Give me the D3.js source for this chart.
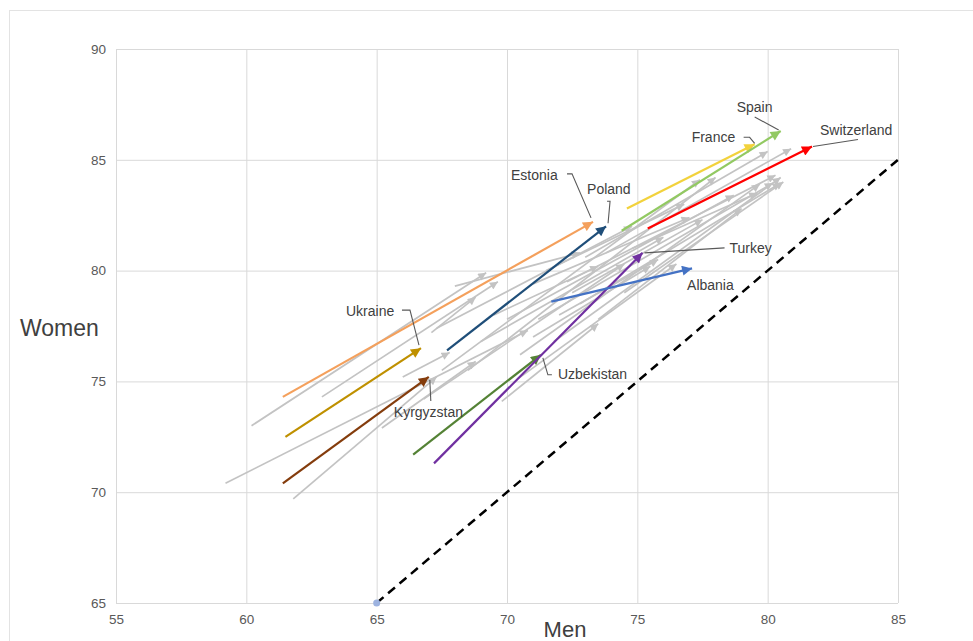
<!DOCTYPE html>
<html>
<head>
<meta charset="utf-8">
<script src="https://cdn.jsdelivr.net/npm/d3@7"></script>
<style>
  body { margin: 0; background: #fff; }
  text { font-family: Arial, "Liberation Sans", sans-serif; }
</style>
</head>
<body>
<script>

const width = 973;
const height = 641;

// highlighted countries: life expectancy, men (x) vs women (y), start -> end
const countries  = ['Estonia', 'Ukraine', 'Kyrgyzstan', 'Uzbekistan', 'Turkey', 'Poland', 'Albania', 'France', 'Spain', 'Switzerland'];
const menStart   = [61.4, 61.5, 61.4, 66.4, 67.2, 67.7, 71.7, 74.6, 74.4, 75.4];
const womenStart = [74.3, 72.5, 70.4, 71.7, 71.3, 76.4, 78.6, 82.8, 81.8, 81.9];
const menEnd     = [73.3, 66.7, 67.0, 71.3, 75.2, 73.8, 77.1, 79.5, 80.5, 81.7];
const womenEnd   = [82.2, 76.5, 75.2, 76.2, 80.8, 82.0, 80.1, 85.7, 86.3, 85.6];

// other countries (grey arrows)
const greyMenStart   = [59.2, 60.2, 61.8, 62.9, 65.2, 67.1, 66.8, 67.5, 67.3, 68.5, 69.0, 69.8, 70.4, 70.0, 70.5, 71.2, 71.8, 72.3, 72.8, 73.0, 73.8, 71.0, 72.0, 68.0, 73.5, 74.5, 71.5, 69.5, 66.0, 74.8, 71.0, 72.5];
const greyWomenStart = [70.4, 73.0, 69.7, 74.3, 72.9, 77.2, 74.2, 75.5, 77.4, 75.5, 76.8, 74.1, 75.1, 77.8, 76.2, 77.8, 76.8, 79.5, 78.5, 80.6, 80.8, 79.4, 78.0, 79.3, 77.8, 79.0, 80.0, 78.0, 75.2, 81.0, 77.0, 79.0];
const greyMenEnd     = [70.8, 69.2, 67.3, 69.65, 68.8, 68.8, 74.5, 77.4, 74.8, 78.0, 76.0, 73.5, 76.5, 78.7, 79.7, 80.2, 80.5, 80.3, 80.5, 80.0, 80.9, 77.0, 75.8, 72.8, 79.0, 80.6, 76.8, 73.5, 67.8, 79.6, 75.5, 77.5];
const greyWomenEnd   = [77.3, 79.9, 75.2, 79.5, 75.9, 78.8, 80.3, 84.1, 82.0, 84.2, 81.5, 77.6, 80.3, 83.4, 83.9, 83.95, 84.2, 84.3, 83.95, 85.37, 85.5, 82.4, 80.5, 80.8, 82.8, 84.0, 83.0, 80.2, 76.3, 83.5, 80.2, 82.3];

const xTicks = [55, 60, 65, 70, 75, 80, 85];
const yTicks = [65, 70, 75, 80, 85, 90];

const colors = {
  'Estonia': '#f4a05c', 'Ukraine': '#bf9000', 'Kyrgyzstan': '#843c0c', 'Uzbekistan': '#548235',
  'Turkey': '#7030a0', 'Poland': '#1f4e79', 'Albania': '#4472c4', 'France': '#f2d23c',
  'Spain': '#92c962', 'Switzerland': '#ff0000'
};

// label placement relative to arrow tip, and leader line points (px offsets)
const labelLayout = {
  'Estonia':     { dx: -82, dy: -42, leader: [[-26, -48], [-21, -48], [-2, -4]] },
  'Poland':      { dx: -19, dy: -32, leader: [[1, -25], [4, -25], [2, -3]] },
  'France':      { dx: -63, dy: -2,  leader: [[-11, -7], [-5, -7], [0, -1]] },
  'Spain':       { dx: -44, dy: -19, leader: [[-26, -14], [-2, -1]] },
  'Switzerland': { dx: 8,   dy: -12, leader: [[46, -7], [1, 0]] },
  'Turkey':      { dx: 87,  dy: 0,   leader: [[82, -5], [2, 0]] },
  'Albania':     { dx: -5,  dy: 22,  leader: [] },
  'Ukraine':     { dx: -75, dy: -32, leader: [[-19, -38], [-11, -38], [-2, -3]] },
  'Kyrgyzstan':  { dx: -35, dy: 40,  leader: [[2, 24], [1, 3]] },
  'Uzbekistan':  { dx: 17,  dy: 24,  leader: [[11, 20], [7, 20], [2, 3]] }
};

const margin = { left: 116, right: 898, top: 49, bottom: 603 };

const svg = d3.select('body').append('svg')
    .attr('width', width)
    .attr('height', height);

svg.append('rect')
    .attr('x', 9.5).attr('y', 10.5)
    .attr('width', 990).attr('height', 660)
    .attr('fill', '#fff')
    .attr('stroke', '#e3e3e3');

const x = d3.scaleLinear().domain([55, 85]).range([margin.left, margin.right]);
const y = d3.scaleLinear().domain([65, 90]).range([margin.bottom, margin.top]);

// grid + axes
const xAxis = svg.append('g')
    .attr('transform', `translate(0,${margin.bottom})`)
    .call(d3.axisBottom(x).tickValues(xTicks).tickSize(-(margin.bottom - margin.top)).tickPadding(11));
const yAxis = svg.append('g')
    .attr('transform', `translate(${margin.left},0)`)
    .call(d3.axisLeft(y).tickValues(yTicks).tickSize(-(margin.right - margin.left)).tickPadding(10));

[xAxis, yAxis].forEach(a => {
  a.select('.domain').remove();
  a.selectAll('.tick line').attr('stroke', '#d9d9d9');
  a.selectAll('.tick text')
    .attr('fill', '#595959')
    .style('font-size', '13.5px');
});

svg.append('text')
    .attr('x', 20).attr('y', 336)
    .attr('fill', '#404040')
    .style('font-size', '23px')
    .text('Women');

svg.append('text')
    .attr('x', 565).attr('y', 637)
    .attr('text-anchor', 'middle')
    .attr('fill', '#404040')
    .style('font-size', '22px')
    .text('Men');

// diagonal reference line
svg.append('line')
    .attr('x1', x(65)).attr('y1', y(65))
    .attr('x2', x(85)).attr('y2', y(85))
    .attr('stroke', '#000')
    .attr('stroke-width', 2.5)
    .attr('stroke-dasharray', '9,6');

svg.append('circle')
    .attr('cx', x(65)).attr('cy', y(65))
    .attr('r', 3.5)
    .attr('fill', '#9db3e0');

// arrow markers
const defs = svg.append('defs');
function addMarker(id, color, w, h) {
  defs.append('marker')
      .attr('id', id)
      .attr('viewBox', '0 -5 10 10')
      .attr('refX', 10).attr('refY', 0)
      .attr('markerUnits', 'userSpaceOnUse')
      .attr('markerWidth', w).attr('markerHeight', h)
      .attr('orient', 'auto')
    .append('path')
      .attr('d', 'M0,-5L10,0L0,5Z')
      .attr('fill', color);
}
addMarker('arrow-grey', '#c3c3c3', 9, 8);
countries.forEach((c, i) => addMarker('arrow-' + i, colors[c], 12, 10));

// grey arrows
const greyData = greyMenStart.map((m, i) => ({
  x0: m, y0: greyWomenStart[i], x1: greyMenEnd[i], y1: greyWomenEnd[i]
}));

svg.append('g').selectAll('line')
    .data(greyData)
    .enter()
    .append('line')
    .attr('x1', d => x(d.x0)).attr('y1', d => y(d.y0))
    .attr('x2', d => x(d.x1)).attr('y2', d => y(d.y1))
    .attr('stroke', '#c3c3c3')
    .attr('stroke-width', 1.7)
    .attr('marker-end', 'url(#arrow-grey)');

// highlighted arrows
const hiData = countries.map((c, i) => ({
  name: c, i: i,
  x0: menStart[i], y0: womenStart[i], x1: menEnd[i], y1: womenEnd[i]
}));

svg.append('g').selectAll('line')
    .data(hiData)
    .enter()
    .append('line')
    .attr('x1', d => x(d.x0)).attr('y1', d => y(d.y0))
    .attr('x2', d => x(d.x1)).attr('y2', d => y(d.y1))
    .attr('stroke', d => colors[d.name])
    .attr('stroke-width', 2.2)
    .attr('marker-end', d => `url(#arrow-${d.i})`);

// labels + leader lines
const labels = svg.append('g');
hiData.forEach(d => {
  const L = labelLayout[d.name];
  const tx = x(d.x1), ty = y(d.y1);
  if (L.leader.length) {
    labels.append('polyline')
        .attr('points', L.leader.map(p => [tx + p[0], ty + p[1]].join(',')).join(' '))
        .attr('fill', 'none')
        .attr('stroke', '#595959')
        .attr('stroke-width', 1.1);
  }
  labels.append('text')
      .attr('x', tx + L.dx)
      .attr('y', ty + L.dy)
      .attr('fill', '#404040')
      .style('font-size', '14px')
      .text(d.name);
});

</script>
</body>
</html>
